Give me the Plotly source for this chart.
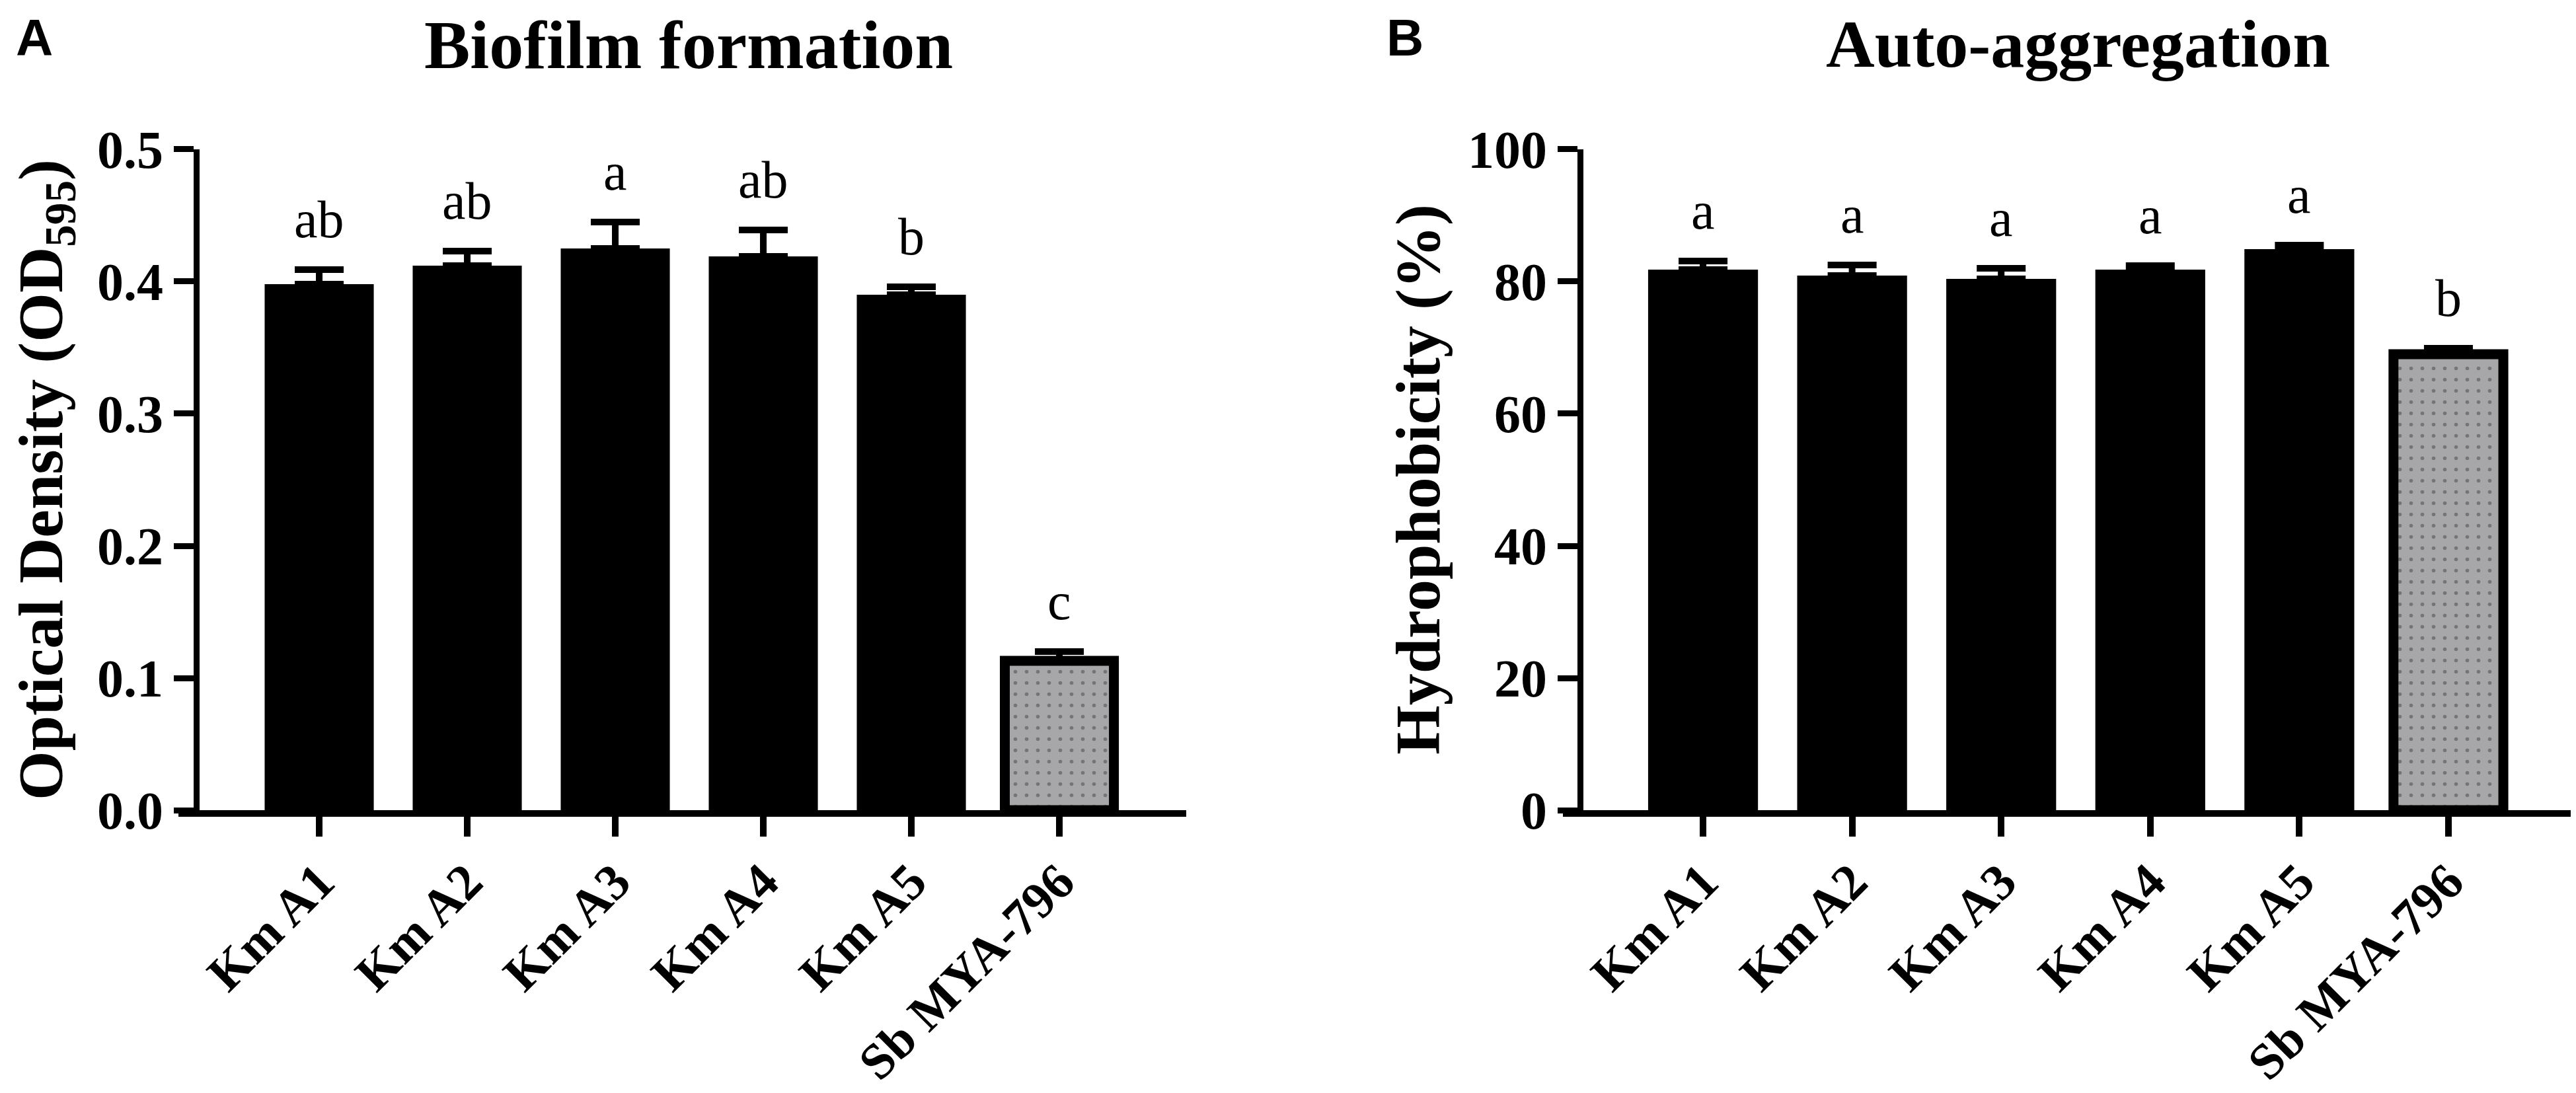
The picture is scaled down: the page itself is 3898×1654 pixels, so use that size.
import plotly.graph_objects as go

# ---- data ----
categories = ["Km A1", "Km A2", "Km A3", "Km A4", "Km A5", "Sb MYA-796"]

biofilm_mean = [0.398, 0.412, 0.425, 0.419, 0.390, 0.113]
biofilm_err = [0.011, 0.011, 0.020, 0.020, 0.006, 0.007]
biofilm_letters = ["ab", "ab", "a", "ab", "b", "c"]

agg_mean = [81.8, 80.9, 80.4, 81.8, 84.9, 69.0]
agg_err = [1.3, 1.6, 1.6, 0.6, 0.6, 0.9]
agg_letters = ["a", "a", "a", "a", "a", "b"]

biofilm_ticks = [0.0, 0.1, 0.2, 0.3, 0.4, 0.5]
biofilm_ticktext = ["0.0", "0.1", "0.2", "0.3", "0.4", "0.5"]
agg_ticks = [0, 20, 40, 60, 80, 100]

# ---- styles ----
W, H = 3898, 1654
SERIF = "Liberation Serif, Times New Roman, serif"
SANS = "Liberation Sans, Arial, sans-serif"
GRAY = "#a7a7a9"
bar_colors = ["#000000"] * 5 + [GRAY]
bar_line_w = [0, 0, 0, 0, 0, 15]
bar_pattern = ["", "", "", "", "", "."]

ydom = [0.2636, 0.8682]
xdomA = [262 / W, 1787 / W]
xdomB = [2357 / W, 3888 / W]
yposA = 289 / W
yposB = 2383 / W
xrangeA = [-0.951, 5.857]
xrangeB = [-0.940, 5.847]


def bar_trace(means, errs, xa, ya):
    return go.Bar(
        x=categories, y=means, xaxis=xa, yaxis=ya, width=0.737,
        marker=dict(
            color=bar_colors,
            line=dict(color="black", width=bar_line_w),
            pattern=dict(shape=bar_pattern, fgcolor="black",
                         size=17, solidity=0.085, fillmode="overlay"),
        ),
        error_y=dict(type="data", symmetric=False, array=errs,
                     arrayminus=[0] * len(errs), color="black",
                     thickness=10, width=37),
        showlegend=False,
    )


fig = go.Figure()
fig.add_trace(bar_trace(biofilm_mean, biofilm_err, "x", "y"))
fig.add_trace(bar_trace(agg_mean, agg_err, "x2", "y2"))

tickfont = dict(family=SERIF, size=80, color="black", weight="bold")
xaxis_common = dict(
    showline=True, linewidth=10, linecolor="black",
    ticks="outside", ticklen=30, tickwidth=10, tickcolor="black",
    tickangle=-45, ticklabelstandoff=-8,
    tickfont=dict(family=SERIF, size=77, color="black", weight="bold"),
    showgrid=False, zeroline=False, automargin=False,
)
yaxis_common = dict(
    showline=True, linewidth=9, linecolor="black",
    ticks="outside", ticklen=30, tickwidth=9, tickcolor="black",
    tickfont=tickfont, showgrid=False, zeroline=False, automargin=False,
    domain=ydom,
)

fig.update_layout(
    width=W, height=H,
    margin=dict(l=0, r=0, t=0, b=0),
    paper_bgcolor="white", plot_bgcolor="white",
    xaxis=dict(domain=xdomA, anchor="y", range=xrangeA, **xaxis_common),
    yaxis=dict(anchor="free", position=yposA, range=[0, 0.5], tickvals=biofilm_ticks,
               ticktext=biofilm_ticktext, **yaxis_common),
    xaxis2=dict(domain=xdomB, anchor="y2", range=xrangeB, **xaxis_common),
    yaxis2=dict(anchor="free", position=yposB, range=[0, 100], tickvals=agg_ticks,
                **yaxis_common),
)

annotations = []
# significance letters
for cat, m, e, t in zip(categories, biofilm_mean, biofilm_err, biofilm_letters):
    annotations.append(dict(x=cat, y=m + e, xref="x", yref="y", text=t,
                            showarrow=False, yanchor="bottom", yshift=30,
                            font=dict(family=SERIF, size=80, color="black")))
for cat, m, e, t in zip(categories, agg_mean, agg_err, agg_letters):
    annotations.append(dict(x=cat, y=m + e, xref="x2", yref="y2", text=t,
                            showarrow=False, yanchor="bottom", yshift=30,
                            font=dict(family=SERIF, size=80, color="black")))

# panel titles
annotations.append(dict(x=1034 / W, y=1, xref="paper", yref="paper",
                        text="Biofilm formation", showarrow=False,
                        xanchor="center", yanchor="top",
                        font=dict(family=SERIF, size=104, color="black", weight="bold")))
annotations.append(dict(x=3136 / W, y=1, xref="paper", yref="paper",
                        text="Auto-aggregation", showarrow=False,
                        xanchor="center", yanchor="top",
                        font=dict(family=SERIF, size=102, color="black", weight="bold")))
# panel letters
annotations.append(dict(x=14 / W, y=1 - 49 / H, xref="paper", yref="paper", text="A",
                        showarrow=False, xanchor="left", yanchor="middle",
                        font=dict(family=SANS, size=78, color="black", weight="bold")))
annotations.append(dict(x=2088 / W, y=1 - 49 / H, xref="paper", yref="paper", text="B",
                        showarrow=False, xanchor="left", yanchor="middle",
                        font=dict(family=SANS, size=78, color="black", weight="bold")))
# y axis titles
ymid = sum(ydom) / 2
annotations.append(dict(x=60 / W, y=ymid, xref="paper", yref="paper",
                        text="Optical Density (OD<sub>595</sub>)", textangle=-90,
                        showarrow=False, xanchor="center", yanchor="middle",
                        font=dict(family=SERIF, size=96, color="black", weight="bold")))
annotations.append(dict(x=2137 / W, y=ymid, xref="paper", yref="paper",
                        text="Hydrophobicity (%)", textangle=-90,
                        showarrow=False, xanchor="center", yanchor="middle",
                        font=dict(family=SERIF, size=96, color="black", weight="bold")))

fig.update_layout(annotations=annotations)
fig.write_html("out.html")
